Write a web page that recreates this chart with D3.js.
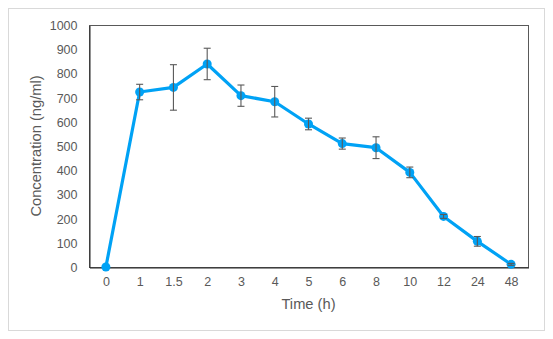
<!DOCTYPE html>
<html>
<head>
<meta charset="utf-8">
<script src="https://cdn.jsdelivr.net/npm/d3@7/dist/d3.min.js"></script>
<style>
  html, body { margin: 0; padding: 0; background: #fff; }
  svg { display: block; font-family: "Liberation Sans", Arial, sans-serif; }
</style>
</head>
<body>
<svg id="chart" width="553" height="339"></svg>
<script>
// Sampling times (h), shown as evenly spaced categories
const times = ["0", "1", "1.5", "2", "3", "4", "5", "6", "8", "10", "12", "24", "48"];
// Mean plasma concentration (ng/ml)
const meanConc = [0, 723, 742, 839, 708, 683, 591, 510, 493, 391, 209, 106, 11];
// Error bar half-widths (ng/ml)
const errConc = [0, 32, 94, 65, 44, 63, 24, 23, 45, 22, 8, 20, 4];
const yTicks = [0, 100, 200, 300, 400, 500, 600, 700, 800, 900, 1000];

const svg = d3.select("#chart");
const m = { left: 89, right: 528, top: 25, bottom: 267 };
const font = "Liberation Sans, Arial, sans-serif";

// outer frame
svg.append("rect")
  .attr("x", 8.5).attr("y", 8.5).attr("width", 536).attr("height", 322)
  .attr("fill", "#fff").attr("stroke", "#d9d9d9").attr("stroke-width", 1);

const x = d3.scaleBand().domain(times).range([m.left, m.right]).padding(0);
const y = d3.scaleLinear().domain([0, 1000]).range([m.bottom, m.top]);

// plot area box
svg.append("rect")
  .attr("x", m.left + 0.5).attr("y", m.top + 0.5)
  .attr("width", m.right - m.left).attr("height", m.bottom - m.top)
  .attr("fill", "none").attr("stroke", "#595959").attr("stroke-width", 1);

// y axis
const yAxis = svg.append("g")
  .attr("transform", `translate(${m.left + 0.5},0.5)`)
  .call(d3.axisLeft(y).tickValues(yTicks).tickFormat(d3.format("d"))
    .tickSize(0).tickPadding(12));
yAxis.select(".domain").attr("stroke", "#262626");
yAxis.selectAll("text").attr("fill", "#595959").attr("font-size", "12.5px")
  .attr("font-family", font);

// x axis
const xAxis = svg.append("g")
  .attr("transform", `translate(0.5,${m.bottom + 0.5})`)
  .call(d3.axisBottom(x).tickSize(0).tickPadding(10));
xAxis.select(".domain").attr("stroke", "#262626");
xAxis.selectAll("text").attr("fill", "#595959").attr("font-size", "12.5px")
  .attr("font-family", font);

// axis titles
svg.append("text")
  .attr("transform", `translate(41,${(m.top + m.bottom) / 2}) rotate(-90)`)
  .attr("text-anchor", "middle")
  .attr("fill", "#595959").attr("font-size", "14.7px")
  .text("Concentration (ng/ml)");
svg.append("text")
  .attr("x", (m.left + m.right) / 2).attr("y", 308.5)
  .attr("text-anchor", "middle")
  .attr("fill", "#595959").attr("font-size", "14.7px")
  .text("Time (h)");

const data = times.map((t, i) => ({ t, v: meanConc[i], e: errConc[i] }));
const cx = d => x(d.t) + x.bandwidth() / 2;

// connecting line
svg.append("path")
  .datum(data)
  .attr("fill", "none").attr("stroke", "#00a2f5").attr("stroke-width", 3.2)
  .attr("stroke-linejoin", "round")
  .attr("d", d3.line().x(cx).y(d => y(d.v)));

// markers
svg.append("g").selectAll("circle").data(data).join("circle")
  .attr("cx", cx).attr("cy", d => y(d.v)).attr("r", 4.5)
  .attr("fill", "#00a2f5");

// error bars
const eb = svg.append("g").attr("stroke", "#595959").attr("stroke-width", 1.1);
const withErr = data.filter(d => d.e > 0);
eb.selectAll("line.v").data(withErr).join("line").attr("class", "v")
  .attr("x1", cx).attr("x2", cx)
  .attr("y1", d => y(d.v + d.e)).attr("y2", d => y(d.v - d.e));
eb.selectAll("line.t").data(withErr).join("line").attr("class", "t")
  .attr("x1", d => cx(d) - 3.5).attr("x2", d => cx(d) + 3.5)
  .attr("y1", d => y(d.v + d.e)).attr("y2", d => y(d.v + d.e));
eb.selectAll("line.b").data(withErr).join("line").attr("class", "b")
  .attr("x1", d => cx(d) - 3.5).attr("x2", d => cx(d) + 3.5)
  .attr("y1", d => y(d.v - d.e)).attr("y2", d => y(d.v - d.e));
</script>
</body>
</html>
